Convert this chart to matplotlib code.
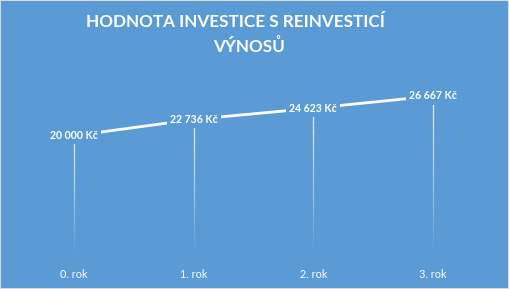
import matplotlib.pyplot as plt
import numpy as np
from matplotlib.collections import LineCollection
from matplotlib.patches import Rectangle

# data
years = ['0. rok', '1. rok', '2. rok', '3. rok']
values = [20000, 22736, 24623, 26667]
labels = ['20 000 Kč', '22 736 Kč', '24 623 Kč', '26 667 Kč']

bg = '#5B9BD5'
plt.rcParams['font.family'] = ['Lato', 'DejaVu Sans']

fig = plt.figure(figsize=(5.09, 2.89), dpi=100, facecolor=bg)
ax = fig.add_axes([0.0275, 0.1176, 0.941, 0.619])
ax.set_facecolor(bg)
for s in ax.spines.values():
    s.set_visible(False)

x = np.arange(len(years))
ax.set_xlim(-0.5, len(years) - 0.5)
ax.set_ylim(0, 30000)
ax.set_yticks([])
ax.set_xticks(x)
ax.set_xticklabels(years, color='white', fontsize=7.8)
ax.tick_params(axis='x', length=0, pad=10)

# drop lines fading towards the bottom
n = 60
for xi, v in zip(x, values):
    ys = np.linspace(v, 0, n + 1)
    segs = [[(xi, ys[i]), (xi, ys[i + 1])] for i in range(n)]
    alphas = np.linspace(0.95, 0.0, n)
    cols = [(1, 1, 1, a) for a in alphas]
    ax.add_collection(LineCollection(segs, colors=cols, linewidths=0.9, zorder=1))

ax.plot(x, values, color='white', lw=2.0, solid_capstyle='round', zorder=2)

for xi, v, lab in zip(x, values, labels):
    ax.text(xi, v, lab, ha='center', va='center', color='white', fontsize=7.6,
            fontweight='bold', zorder=3,
            bbox=dict(boxstyle='square,pad=0.3', fc=bg, ec='none'))

fig.text(235 / 509, 1 - 22 / 289, 'HODNOTA INVESTICE S REINVESTICÍ', ha='center', va='center',
         color='white', fontsize=12.3, fontweight='bold')
fig.text(249 / 509, 1 - 46 / 289, 'VÝNOSŮ', ha='center', va='center',
         color='white', fontsize=12.3, fontweight='bold')

fig.patches.append(Rectangle((0, 0), 1, 1, transform=fig.transFigure, fill=False,
                             ec='#D9D9D9', lw=1.5))

fig.savefig('out.png', dpi=100, facecolor=bg)
